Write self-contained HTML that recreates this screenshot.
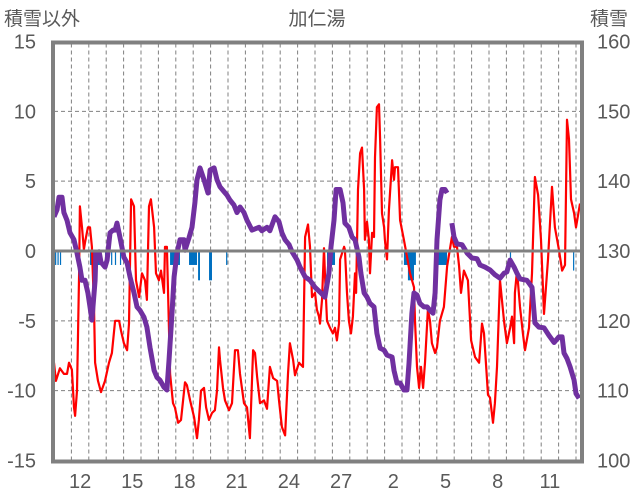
<!DOCTYPE html>
<html><head><meta charset="utf-8">
<style>
html,body{margin:0;padding:0;background:#fff;}
svg{display:block;font-family:"Liberation Sans","Noto Sans CJK JP",sans-serif;}
</style></head>
<body>
<svg id="chart" width="636" height="501" viewBox="0 0 636 501" xmlns="http://www.w3.org/2000/svg">
  <text x="4" y="25" font-size="19" fill="#595959">積雪以外</text>
  <text x="317" y="25" font-size="19" fill="#595959" text-anchor="middle">加仁湯</text>
  <text x="590" y="25" font-size="19" fill="#595959">積雪</text>
  <g id="grid"></g>
  <g id="bars"></g>
  <g id="lines"></g>
  <g id="axes"></g>
</svg>
<script>
// x categories: day labels placed at day index (0 = first day of chart)
const xTickDays = [1, 4, 7, 10, 13, 16, 19, 22, 25, 28];
const xTickLabels = ["12", "15", "18", "21", "24", "27", "2", "5", "8", "11"];
const leftTicks = [15, 10, 5, 0, -5, -10, -15];
const rightTicks = [160, 150, 140, 130, 120, 110, 100];

// red series (left axis): time in days, value
const redT = [0.00,0.11,0.34,0.57,0.75,0.86,1.03,1.15,1.21,1.32,1.44,1.49,1.61,1.72,1.78,1.95,2.07,2.18,2.30,2.36,2.53,2.70,2.93,3.16,3.33,3.51,3.74,3.85,4.02,4.20,4.31,4.43,4.60,4.71,4.89,5.06,5.23,5.34,5.46,5.57,5.75,5.86,6.03,6.15,6.32,6.38,6.49,6.67,6.84,6.95,7.13,7.30,7.53,
7.64,7.82,8.05,8.22,8.33,8.45,8.62,8.74,8.91,9.08,9.25,9.37,9.48,9.54,9.71,9.83,10.06,10.23,10.40,10.57,10.69,10.92,11.09,11.26,11.44,11.55,11.67,11.84,12.07,12.24,12.41,12.59,12.82,12.93,13.10,13.28,13.45,13.56,13.74,13.85,14.08,14.31,14.43,14.60,14.71,14.83,
15.00,15.11,15.23,15.29,15.40,15.52,15.57,15.69,15.86,16.03,16.15,16.26,16.38,16.44,16.67,16.72,16.84,16.95,17.07,17.18,17.30,17.36,17.47,17.59,17.70,17.82,17.87,17.99,18.10,18.16,18.28,18.39,18.45,18.56,18.68,18.74,18.85,18.97,19.02,19.14,19.25,19.43,19.54,19.60,19.77,19.89,20.11,20.29,20.46,20.69,20.75,20.86,20.98,21.09,21.21,21.32,21.49,21.61,21.72,21.90,22.01,22.18,22.41,22.59,
22.87,22.99,23.16,23.28,23.39,23.56,23.79,23.97,24.20,24.43,24.60,24.71,24.94,25.06,25.23,25.34,25.46,25.63,25.86,26.03,26.21,26.32,26.44,26.49,26.61,26.78,26.95,27.07,27.30,27.47,27.64,27.82,27.99,28.16,28.39,28.62,28.79,29.02,29.20,29.37,29.48,29.60,29.71,29.89,30.00,30.23];
const redV = [-8.0,-9.3,-8.4,-8.8,-8.8,-8.0,-8.5,-11.2,-11.8,-10.0,-1.6,3.2,1.7,0.1,0.6,1.7,1.7,0.3,-4.0,-8.0,-9.3,-10.1,-9.3,-8.0,-7.3,-5.0,-5.0,-5.7,-6.6,-7.1,-5.2,3.7,3.2,-2.1,-3.3,-1.6,-2.1,-3.5,3.2,3.7,1.7,-1.6,-2.1,-1.4,-3.0,0.3,0.3,-8.8,-10.9,-11.2,-12.3,-12.1,-9.4,
-9.6,-10.7,-11.9,-13.4,-12.1,-10.0,-9.8,-11.2,-12.1,-11.6,-11.4,-10.0,-6.9,-7.8,-9.8,-10.7,-11.4,-10.9,-7.1,-7.1,-8.8,-10.9,-11.2,-13.4,-7.1,-7.3,-9.0,-10.9,-10.7,-11.3,-8.3,-9.1,-9.3,-10.7,-12.6,-13.2,-8.8,-6.6,-7.8,-8.9,-8.0,-8.3,1.0,1.9,0.3,-3.3,
-3.0,-4.2,-4.7,-5.2,-3.5,0.2,-1.6,-5.0,-5.5,-5.9,-5.5,-6.4,-5.2,-0.6,0.3,0.1,-3.0,-5.0,-5.9,-4.7,-1.6,-3.0,4.4,7.0,7.4,4.4,0.8,2.1,0.8,-1.6,1.3,1.0,6.7,10.3,10.5,8.0,2.7,1.7,0.8,-0.6,2.9,6.5,5.1,6.0,6.0,2.2,0.8,-0.4,-1.6,-2.6,-5.0,-8.3,-9.8,-8.3,-9.8,-8.0,-4.2,-5.0,-6.6,-7.3,-6.9,-5.0,-4.0,-1.1,
1.0,0.3,0.3,-1.1,-3.0,-1.4,-2.1,-6.4,-7.6,-8.0,-5.2,-5.9,-10.3,-10.5,-12.3,-10.9,-8.3,-2.1,-5.0,-6.6,-5.5,-4.7,-6.6,-3.0,-1.4,-4.0,-5.9,-7.1,-5.5,-1.6,5.3,4.0,0.8,-4.5,-0.6,4.6,1.7,0.1,-1.4,-1.0,9.4,8.0,3.7,2.7,1.7,3.4];

// purple series (right axis, snow depth): time in days, value (null = gap)
const snowT = [0.00,0.17,0.29,0.46,0.57,0.75,0.92,1.15,1.32,1.49,1.61,1.78,1.95,2.07,2.18,2.36,2.41,2.59,2.70,2.93,3.05,3.22,3.39,3.51,3.62,3.79,4.02,4.20,4.37,4.60,4.77,4.94,5.17,5.34,5.52,5.75,5.92,6.09,6.32,6.49,6.61,6.78,6.90,7.07,7.24,7.47,7.53,7.76,7.93,8.10,8.22,8.39,8.62,8.85,8.97,9.20,9.37,9.54,9.77,9.94,10.11,10.34,10.52,10.69,10.92,11.09,11.38,11.78,11.95,12.24,12.41,12.70,12.93,13.10,13.28,13.51,13.68,13.97,14.14,14.43,14.71,15.00,15.34,15.57,15.80,15.92,16.09,16.21,16.44,16.61,16.72,16.95,17.13,17.30,17.53,17.64,17.82,17.99,18.16,18.39,18.56,18.74,18.97,19.14,19.43,19.54,19.71,19.89,20.11,20.29,20.40,20.57,20.69,20.86,21.03,21.26,21.44,21.61,21.78,21.90,22.01,22.18,22.30,22.47,22.59,22.73,22.87,22.99,23.16,23.45,23.74,24.02,24.31,24.48,24.77,25.06,25.34,25.63,25.86,26.03,26.21,26.44,26.61,26.78,27.18,27.47,27.64,27.87,28.16,28.45,28.74,29.02,29.20,29.31,29.48,29.66,29.89,30.00,30.17];
const snowV = [134.9,135.9,137.7,137.7,135.5,134.4,132.6,131.6,129.7,127.7,125.8,125.8,124.0,122.0,120.1,125.8,129.7,129.9,128.4,127.7,128.7,132.6,133.0,133.0,134.0,132.0,129.1,128.3,126.3,124.0,122.0,121.5,120.5,119.1,116.2,112.9,111.9,111.5,110.5,110.1,114.3,121.1,126.3,129.7,131.6,131.6,130.1,131.9,133.4,136.9,140.2,141.9,140.2,138.3,141.6,141.9,140.2,139.2,138.5,138.0,137.3,136.6,135.5,136.3,135.5,134.4,133.0,133.4,132.9,133.4,132.9,134.9,134.2,132.6,131.6,130.9,129.9,128.7,127.7,126.3,125.8,124.8,124.0,123.4,126.8,130.6,134.4,138.8,138.8,136.9,134.0,133.4,132.0,131.6,129.1,126.8,124.0,123.4,122.5,122.0,118.2,116.1,115.8,115.1,114.8,112.9,111.1,111.1,110.1,110.1,113.9,121.1,124.0,123.7,122.5,122.0,122.0,121.5,121.1,124.0,131.6,137.3,138.8,138.8,138.3,null,134.0,132.0,131.0,130.9,129.7,129.0,128.9,128.0,127.7,127.3,126.6,126.1,126.8,127.0,128.7,127.7,126.8,126.0,125.8,124.8,119.7,119.1,119.0,117.9,116.9,117.7,117.7,115.4,114.6,113.4,111.5,109.6,108.9];

// blue bars (left axis): start day, end day, depth value
const barStart = [0.06,0.20,0.34,2.07,2.41,2.93,3.28,3.50,3.79,6.67,7.76,8.28,8.91,9.89,15.69,20.11,20.34,20.69,21.84,26.20,29.83];
const barEnd   = [0.11,0.26,0.40,2.30,2.64,3.05,3.33,3.56,3.85,7.24,8.22,8.39,9.08,9.94,16.15,20.34,20.69,20.80,22.59,26.26,29.89];
const barValue = [-1.0,-1.0,-1.0,-1.0,-1.0,-1.0,-1.0,-1.0,-1.0,-1.0,-1.0,-2.1,-2.1,-1.0,-1.0,-1.0,-2.1,-1.0,-1.0,-0.5,-1.4];

const NS = "http://www.w3.org/2000/svg";
const PL = 54, PR = 581, PT = 43.5, PB = 460.5;
const DAYW = 17.4;
const xs = d => PL + d * DAYW;
const yL = v => 251 + (0 - v) * (PB - 251) / 15;
const yR = v => yL((v - 130) / 2);

function mk(tag, parent, attrs) {
  const e = document.createElementNS(NS, tag);
  for (const k in attrs) e.setAttribute(k, attrs[k]);
  parent.appendChild(e);
  return e;
}
const grid = document.getElementById('grid');
const bars = document.getElementById('bars');
const lines = document.getElementById('lines');
const axes = document.getElementById('axes');

for (let d = 1; d <= 30; d++) {
  const l = mk('line', grid, {x1: xs(d), x2: xs(d), y1: PT, y2: PB, stroke: '#808080', 'stroke-width': 1, 'stroke-dasharray': '4,3'});
  
  
}
leftTicks.forEach(v => {
  if (v === 15 || v === -15 || v === 0) return;
  const l = mk('line', grid, {x1: PL, x2: PR, y1: yL(v), y2: yL(v), stroke: '#808080', 'stroke-width': 1, 'stroke-dasharray': '4,3'});
  
  
});

barStart.forEach((s, i) => {
  const y0 = yL(0), y1 = yL(barValue[i]);
  const r = mk('rect', bars, {x: xs(s), y: y0, width: Math.max(1.2, xs(barEnd[i]) - xs(s)), height: y1 - y0, fill: '#0070C0'});
  
  
});

const z = mk('line', axes, {x1: PL, x2: PR, y1: yL(0), y2: yL(0), stroke: '#808080', 'stroke-width': 3});



let dr = '';
redT.forEach((t, i) => { dr += (i ? 'L' : 'M') + xs(t).toFixed(1) + ' ' + yL(redV[i]).toFixed(1); });
const red = mk('path', lines, {d: dr, fill: 'none', stroke: '#FF0000', 'stroke-width': 2.2, 'stroke-linejoin': 'round'});



let dp = '', pen = false;
snowT.forEach((t, i) => {
  const v = snowV[i];
  if (v === null) { pen = false; return; }
  dp += (pen ? 'L' : 'M') + xs(t).toFixed(1) + ' ' + yR(v).toFixed(1);
  pen = true;
});
const pur = mk('path', lines, {d: dp, fill: 'none', stroke: '#7030A0', 'stroke-width': 5, 'stroke-linejoin': 'round'});



const fr = mk('rect', axes, {x: PL - 1, y: PT - 1, width: PR - PL + 2, height: PB - PT + 2, fill: 'none', stroke: '#808080', 'stroke-width': 4});



leftTicks.forEach(v => {
  const t = mk('text', axes, {x: 36, y: yL(v) + 7, 'font-size': 20, fill: '#595959', 'text-anchor': 'end'});
  t.textContent = String(v);
  
  
});
rightTicks.forEach(v => {
  const t = mk('text', axes, {x: 597, y: yR(v) + 7, 'font-size': 20, fill: '#595959'});
  t.textContent = String(v);
  
  
});
xTickDays.forEach((d, i) => {
  const t = mk('text', axes, {x: xs(d + 0.5), y: 488, 'font-size': 20, fill: '#595959', 'text-anchor': 'middle'});
  t.textContent = xTickLabels[i];
  
  
});
</script>
</body></html>
